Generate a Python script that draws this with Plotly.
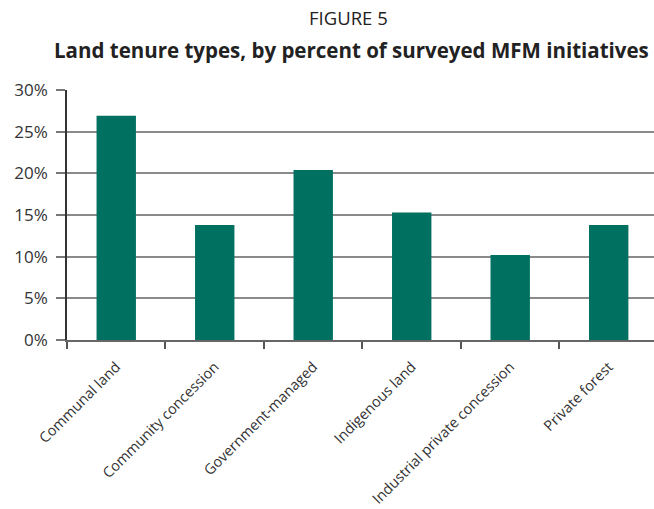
import plotly.graph_objects as go

# Land tenure categories and their share of surveyed MFM initiatives (%)
categories = [
    "Communal land",
    "Community concession",
    "Government-managed",
    "Indigenous land",
    "Industrial private concession",
    "Private forest",
]
percent = [26.9, 13.8, 20.4, 15.3, 10.2, 13.8]
y_ticks = [0, 5, 10, 15, 20, 25, 30]
y_tick_labels = [f"{v}%" for v in y_ticks]

BAR_COLOR = "#007060"
FONT = "Open Sans"

fig = go.Figure(
    go.Bar(
        x=categories,
        y=percent,
        marker=dict(color=BAR_COLOR, line=dict(width=0)),
        hovertemplate="%{x}: %{y}%<extra></extra>",
    )
)

# mid-level reference line drawn darker than the rest of the grid
fig.add_hline(y=15, line=dict(color="#222222", width=1.5), layer="below")

fig.update_layout(
    width=654,
    height=509,
    margin=dict(l=67, r=0, t=90, b=169),
    paper_bgcolor="white",
    plot_bgcolor="white",
    showlegend=False,
    bargap=0.6,
    font=dict(family=FONT, color="#333333", size=15),
    annotations=[
        dict(
            text="FIGURE 5",
            xref="paper", yref="paper", x=0.5, y=1, yanchor="middle",
            xshift=-12, yshift=73,
            showarrow=False, font=dict(family=FONT, size=18.5, color="#222222"),
        ),
        dict(
            text="<b>Land tenure types, by percent of surveyed MFM initiatives</b>",
            xref="paper", yref="paper", x=0.5, y=1, yanchor="middle",
            xshift=-9, yshift=40,
            showarrow=False, font=dict(family=FONT, size=20.5, color="#222222"),
        ),
    ],
)

fig.update_xaxes(
    type="category",
    range=[-0.5, 5.46],
    automargin=False,
    tickson="boundaries",
    ticks="outside",
    ticklen=7,
    tickcolor="#555555",
    tickwidth=1.5,
    tickangle=-45,
    ticklabelstandoff=11,
    showline=True,
    linecolor="#666666",
    linewidth=1.5,
    showgrid=False,
    tickfont=dict(family=FONT, size=14.5, color="#333333"),
)

fig.update_yaxes(
    range=[0, 30],
    automargin=False,
    tickvals=y_ticks,
    ticktext=y_tick_labels,
    ticks="outside",
    ticklen=9,
    tickcolor="#777777",
    tickwidth=1.5,
    ticklabelstandoff=5,
    showline=True,
    linecolor="#333333",
    linewidth=1.5,
    showgrid=True,
    gridcolor="#8a8a8a",
    gridwidth=1.5,
    zeroline=False,
    tickfont=dict(family=FONT, size=17, color="#333333"),
)

fig.write_html("out.html")
